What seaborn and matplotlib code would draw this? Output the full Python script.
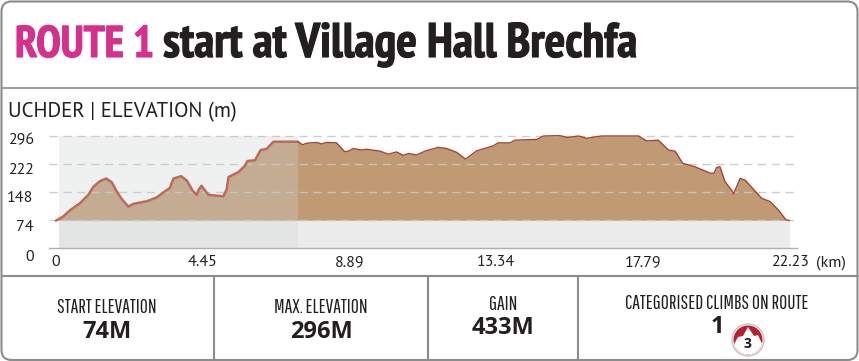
import matplotlib.pyplot as plt
import matplotlib.patches as mpatches
import matplotlib.patheffects as pe
import matplotlib.transforms as mtrans
import numpy as np
import pandas as pd
import seaborn as sns

# elevation profile
dist_km = [0, .22, .42, .73, .98, 1.13, 1.33, 1.52, 1.69, 1.84, 1.99, 2.19, 2.34, 2.75, 3.05, 3.3, 3.45, 3.56,
           3.79, 3.96, 4.14, 4.26, 4.33, 4.41, 4.52, 4.62, 5.07, 5.17, 5.23, 5.53, 5.73, 5.8, 6.03, 6.2, 6.38,
           6.59, 7.33, 7.47, 7.6, 7.9, 8.05, 8.2, 8.5, 8.66, 8.74, 8.86, 9.01, 9.26, 9.41, 9.82, 10.07, 10.32,
           10.52, 10.68, 10.93, 11.18, 11.58, 11.84, 12.14, 12.41, 12.75, 13.25, 13.4, 13.76, 13.91, 14.57,
           14.77, 15.27, 15.5, 15.83, 16.08, 16.53, 17.65, 17.9, 18.25, 18.56, 18.76, 18.99, 19.36, 19.82,
           19.94, 20.02, 20.12, 20.27, 20.48, 20.53, 20.73, 20.88, 21.38, 21.64, 21.89, 22.12, 22.23]
elev_m = [73, 84, 100, 119, 141, 162, 177, 184, 174, 150, 130, 110, 117, 124, 134, 150, 159, 184,
          190, 179, 152, 141, 155, 165, 152, 141, 137, 155, 188, 201, 218, 230, 232, 259, 262,
          281, 281, 273, 277, 279, 275, 279, 278, 263, 255, 256, 263, 259, 261, 256, 248, 254,
          245, 250, 246, 256, 266, 263, 253, 235, 257, 270, 278, 278, 285, 287,
          296, 297, 292, 296, 290, 296, 296, 283, 285, 259, 256, 224, 215, 198,
          198, 213, 215, 176, 152, 143, 184, 180, 132, 123, 101, 75, 73]

x_ticks = [0, 4.45, 8.89, 13.34, 17.79, 22.23]
x_labels = ['0', '4.45', '8.89', '13.34', '17.79', '22.23']
y_ticks = [0, 74, 148, 222, 296]
y_labels = ['0', '74', '148', '222', '296']
shade_start = 0.09
shade_end = 7.33

stat_names = ['START ELEVATION', 'MAX. ELEVATION', 'GAIN', 'CATEGORISED CLIMBS ON ROUTE']
stat_values = ['74M', '296M', '433M', '1']

W, H = 859, 361
TITLE_FONT = ['PT Sans Narrow', 'Fira Sans Condensed', 'Liberation Sans']
NARROW = ['Pathway Gothic One', 'PT Sans Narrow', 'Liberation Sans']
BODY = ['PT Sans', 'Open Sans', 'DejaVu Sans']
TICK_SIZE = 11.5

sns.set_theme(style='white')
plt.rcParams['font.family'] = BODY

df = pd.DataFrame({'km': dist_km, 'm': elev_m})

fig = plt.figure(figsize=(W / 100, H / 100), dpi=100, facecolor='white')

# plot area in pixels: x 49-797, y 136-248.3
ax = fig.add_axes([49 / W, 1 - 248.3 / H, (797 - 49) / W, (248.3 - 136) / H])
ax.set_xlim((49 - 56) / 33, (797 - 56) / 33)
ax.set_ylim(0, 296)
ax.patch.set_alpha(0)

ax.fill_between([shade_start, 22.23], 0, 74, color='#ececec', lw=0, zorder=1)
ax.fill_between(df['km'], 74, df['m'], color='#bf9a72', lw=0, zorder=2)
ax.axvspan(shade_start, shade_end, color='#d0d4d6', alpha=0.32, lw=0, zorder=4)

for v in y_ticks[1:]:
    ax.axhline(v, color='#c6c9ca', lw=1, dashes=(6, 4), zorder=5, alpha=.9, clip_on=False)

sns.lineplot(data=df[df['km'] <= shade_end], x='km', y='m', color='#bd6a5c', lw=1.8, ax=ax,
             estimator=None, sort=False, zorder=6).lines[-1].set_clip_on(False)
sns.lineplot(data=df[df['km'] >= shade_end], x='km', y='m', color='#a5423a', lw=1, ax=ax,
             estimator=None, sort=False, zorder=6).lines[-1].set_clip_on(False)

sns.despine(ax=ax, left=True, top=True, right=True)
ax.spines['bottom'].set_color('#b0b0b0')
ax.spines['bottom'].set_linewidth(1)
ax.set_xlabel('')
ax.set_ylabel('')
ax.set_xticks(x_ticks, x_labels, fontsize=TICK_SIZE, color='#231f20')
ax.set_yticks(y_ticks, y_labels, fontsize=TICK_SIZE, color='#231f20')
ax.tick_params(axis='x', length=4, width=1, color='#b0b0b0', pad=1)
ax.tick_params(axis='y', length=0, pad=11)

# the y labels drift below their grid lines in the original
for lab, dy in zip(ax.get_yticklabels(), [7, 5.5, 4.5, 4, 3]):
    lab.set_transform(lab.get_transform() + mtrans.ScaledTranslation(0, -dy / 100, fig.dpi_scale_trans))

# page furniture, in pixel coordinates
pg = fig.add_axes([0, 0, 1, 1], zorder=-1)
pg.set_xlim(0, W)
pg.set_ylim(H, 0)
pg.axis('off')
frame = '#8c8c8c'
pg.add_patch(mpatches.FancyBboxPatch((1.5, 1.5), W - 3, H - 2.5, boxstyle='round,pad=0,rounding_size=10',
                                     fc='none', ec=frame, lw=1.5))
pg.plot([1.5, W - 1.5], [87.5, 87.5], color=frame, lw=1.2)
pg.plot([1.5, W - 1.5], [275.5, 275.5], color=frame, lw=1.5)
for vx in [214, 428, 578]:
    pg.plot([vx, vx], [275.5, H - 1], color=frame, lw=1.5)

top = fig.add_axes([0, 0, 1, 1], zorder=5)
top.set_xlim(0, W)
top.set_ylim(H, 0)
top.axis('off')
top.patch.set_alpha(0)

# heavier than the bold of the narrow font, so a thin stroke goes round it
top.text(15, 57, 'ROUTE 1', color='#d6308c', fontsize=32, fontweight='bold', family=TITLE_FONT, va='baseline',
         path_effects=[pe.withStroke(linewidth=0.8, foreground='#d6308c')])
top.text(163, 57, 'start at Village Hall Brechfa', color='#231f20', fontsize=35, fontweight='bold',
         family=TITLE_FONT, va='baseline', path_effects=[pe.withStroke(linewidth=0.8, foreground='#231f20')])
top.text(8, 117, 'UCHDER | ELEVATION (m)', color='#231f20', fontsize=15, va='baseline')
top.text(816, 267, '(km)', color='#231f20', fontsize=TICK_SIZE, va='baseline')

centres = [107, 321, 503, 717]
name_y = [313, 313, 310, 309]
value_y = [337.5, 337.5, 334, 333]
for cx, ny, vy, name, val in zip(centres, name_y, value_y, stat_names, stat_values):
    top.text(cx, ny, name, color='#231f20', fontsize=14, family=NARROW, ha='center', va='baseline')
    top.text(cx, vy, val, color='#231f20', fontsize=17, fontweight='bold', family=['Open Sans', 'DejaVu Sans'],
             ha='center', va='baseline')

# climb category badge: red disc with a white peak rising into it
top.add_patch(mpatches.Circle((748, 340), 16, fc='white', ec='#c9c0c0', lw=1))
disc = mpatches.Circle((748, 340), 14.5, fc='#b9202f', ec='none')
top.add_patch(disc)
peak = mpatches.Polygon([(733, 346), (738, 337), (743, 336), (748, 327), (754, 336), (758, 335), (763, 346),
                         (763, 360), (733, 360)], closed=True, fc='white', ec='none')
top.add_patch(peak)
peak.set_clip_path(disc)
top.text(747.5, 348.5, '3', color='#231f20', fontsize=10, fontweight='bold', family=['Open Sans', 'DejaVu Sans'],
         ha='center', va='baseline')

fig.savefig('out.png', dpi=100)
